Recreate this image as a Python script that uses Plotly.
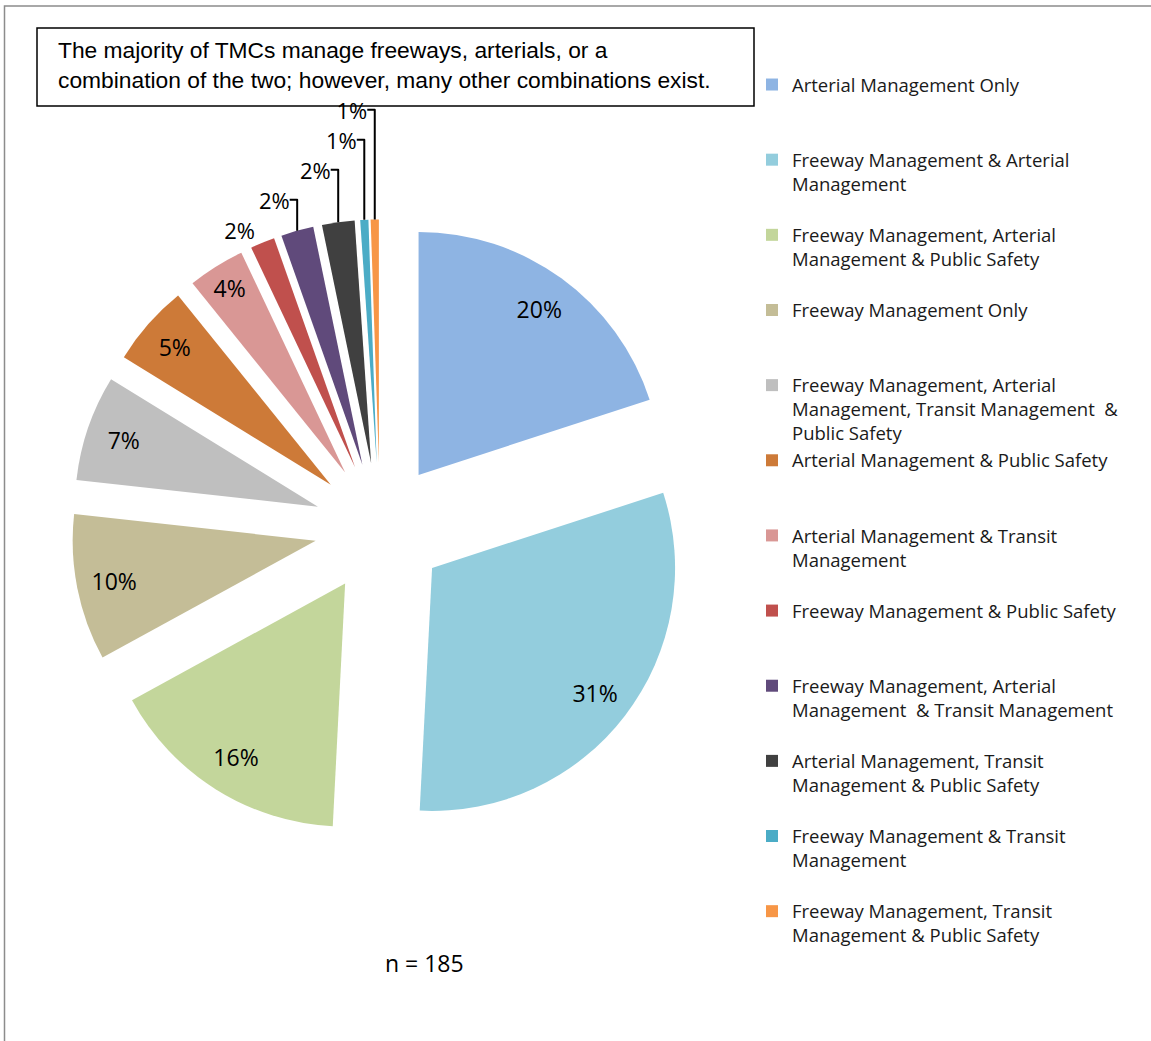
import plotly.graph_objects as go

W, H = 1151, 1041

categories = [
    "Arterial Management Only",
    "Freeway Management & Arterial Management",
    "Freeway Management, Arterial Management & Public Safety",
    "Freeway Management Only",
    "Freeway Management, Arterial Management, Transit Management  & Public Safety",
    "Arterial Management & Public Safety",
    "Arterial Management & Transit Management",
    "Freeway Management & Public Safety",
    "Freeway Management, Arterial Management  & Transit Management",
    "Arterial Management, Transit Management & Public Safety",
    "Freeway Management & Transit Management",
    "Freeway Management, Transit Management & Public Safety",
]
legend_lines = [
    ["Arterial Management Only"],
    ["Freeway Management & Arterial", "Management"],
    ["Freeway Management, Arterial", "Management & Public Safety"],
    ["Freeway Management Only"],
    ["Freeway Management, Arterial", "Management, Transit Management  &", "Public Safety"],
    ["Arterial Management & Public Safety"],
    ["Arterial Management & Transit", "Management"],
    ["Freeway Management & Public Safety"],
    ["Freeway Management, Arterial", "Management  & Transit Management"],
    ["Arterial Management, Transit", "Management & Public Safety"],
    ["Freeway Management & Transit", "Management"],
    ["Freeway Management, Transit", "Management & Public Safety"],
]
counts = [37, 57, 30, 18, 13, 10, 7, 3, 4, 4, 1, 1]
n_total = 185
title_text = ("The majority of TMCs manage freeways, arterials, or a<br>"
              "combination of the two; however, many other combinations exist.")

colors = ["#8EB4E3", "#93CDDD", "#C3D69B", "#C4BD97", "#BFBFBF", "#CD7A38",
          "#D99795", "#C0504D", "#604A7B", "#404040", "#4BACC6", "#F79646"]

LABEL_FONT = "Open Sans"


def px(x):
    return x / W


def py(y):
    return 1 - y / H


# pad legend entries to three lines so every entry has the same height
labels = ["<br>".join(l + [" "] * (3 - len(l))) for l in legend_lines]
n_in = 7
domain = dict(x=[px(71.4), px(688.6)], y=[py(836.6), py(219.4)])
pull = 0.27

fig = go.Figure()
# visible pie: slices + outside labels of the small slices
fig.add_trace(go.Pie(
    labels=labels,
    values=counts,
    sort=False,
    direction="clockwise",
    rotation=0,
    pull=pull,
    marker=dict(colors=colors, line=dict(width=0)),
    texttemplate="%{percent:.0%}",
    textposition=["none"] * n_in + ["outside"] * (len(counts) - n_in),
    outsidetextfont=dict(family=LABEL_FONT, size=22, color="black"),
    domain=domain,
    hovertext=categories,
    hoverinfo="text+percent",
))
# transparent ring on top, used only to place the inside labels near the rim
fig.add_trace(go.Pie(
    labels=labels,
    values=counts,
    sort=False,
    direction="clockwise",
    rotation=0,
    pull=pull,
    hole=0.69,
    marker=dict(colors=["rgba(0,0,0,0)"] * len(counts), line=dict(width=0)),
    texttemplate="%{percent:.0%}",
    textposition=["inside"] * n_in + ["none"] * (len(counts) - n_in),
    insidetextorientation="horizontal",
    insidetextfont=dict(family=LABEL_FONT, size=23, color="black"),
    domain=domain,
    showlegend=False,
    hoverinfo="skip",
))

fig.update_layout(
    width=W, height=H,
    margin=dict(l=0, r=0, t=0, b=0, autoexpand=False),
    paper_bgcolor="white",
    plot_bgcolor="white",
    showlegend=True,
    legend=dict(
        x=px(752), y=py(66), xanchor="left", yanchor="top",
        font=dict(family=LABEL_FONT, size=18.5, color="#1a1a1a"),
        valign="top",
        itemwidth=30,
        bgcolor="rgba(0,0,0,0)",
    ),
    shapes=[
        dict(type="rect", xref="paper", yref="paper",
             x0=px(4.5), x1=px(W + 40), y0=py(6), y1=py(H + 40),
             line=dict(color="#8c8c8c", width=1.5)),
        dict(type="rect", xref="paper", yref="paper",
             x0=px(37), x1=px(754), y0=py(28), y1=py(106),
             line=dict(color="black", width=1.5)),
    ],
    annotations=[
        dict(text=title_text, xref="paper", yref="paper",
             x=px(56), y=py(65), xanchor="left", yanchor="middle",
             align="left", showarrow=False,
             font=dict(family="Liberation Sans", size=22.8, color="black")),
        dict(text=f"n = {n_total}", xref="paper", yref="paper",
             x=px(424), y=py(963), xanchor="center", yanchor="middle",
             showarrow=False,
             font=dict(family=LABEL_FONT, size=23, color="black")),
    ],
)

fig.write_html("out.html",
               config={"displayModeBar": False},
               post_script="document.body.style.margin='0px';"
                           "document.body.style.overflow='hidden';")
